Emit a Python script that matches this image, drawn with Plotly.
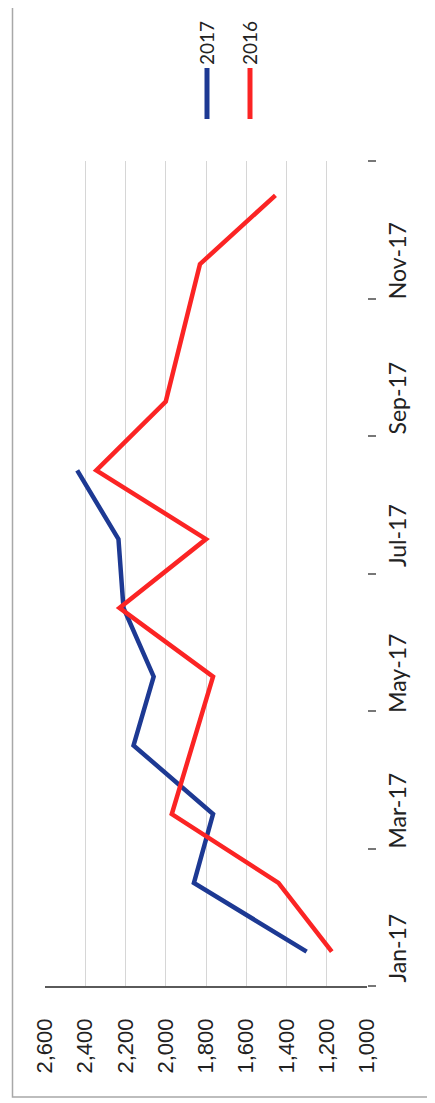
import plotly.graph_objects as go

months = ["Jan-17", "Feb-17", "Mar-17", "Apr-17", "May-17", "Jun-17",
          "Jul-17", "Aug-17", "Sep-17", "Oct-17", "Nov-17", "Dec-17"]
series_2017 = [1300, 1860, 1765, 2160, 2060, 2210, 2235, 2440]
series_2016 = [1175, 1440, 1970, 1867, 1765, 2230, 1800, 2345, 2000, 1915, 1830, 1455]
value_ticks = [1000, 1200, 1400, 1600, 1800, 2000, 2200, 2400, 2600]
label_months = ["Jan-17", "Mar-17", "May-17", "Jul-17", "Sep-17", "Nov-17"]

idx = {m: i for i, m in enumerate(months)}
blue = "#1d3993"
red = "#fb2424"

fig = go.Figure()
fig.add_trace(go.Scatter(x=series_2017, y=[idx[m] for m in months[:len(series_2017)]],
                         mode="lines", line=dict(color=blue, width=4.5), name="2017"))
fig.add_trace(go.Scatter(x=series_2016, y=[idx[m] for m in months[:len(series_2016)]],
                         mode="lines", line=dict(color=red, width=4.5), name="2016"))

# the page body has an 8px default margin, so the figure starts at (8, 8)
OFF = 8
W, H = 435 - OFF, 1103 - OFF
plot_left, plot_right, plot_top, plot_bottom = 45, 367, 161, 986  # page pixels
ml = plot_left - OFF
mt = plot_top - OFF
mr = W - (plot_right - OFF)
mb = H - (plot_bottom - OFF)
pw, ph = W - ml - mr, H - mt - mb

def px_x(p):
    return (p - OFF - ml) / pw

def px_y(p):
    return (H - mb - (p - OFF)) / ph

fig.update_layout(
    width=W, height=H,
    margin=dict(l=ml, r=mr, t=mt, b=mb, autoexpand=False),
    paper_bgcolor="white", plot_bgcolor="white",
    showlegend=False,
    xaxis=dict(
        range=[2600, 1000], tickvals=value_ticks, tickformat=",d",
        tickangle=-90, showgrid=True, gridcolor="#d6d6d6", gridwidth=1,
        showline=True, linecolor="#5a5a5a", linewidth=1.5,
        ticks="", zeroline=False, ticklabelstandoff=22,
        tickfont=dict(family="Liberation Sans", size=22, color="#222222"),
    ),
    yaxis=dict(
        range=[-0.5, 11.5], side="right",
        tickmode="array", tickvals=[idx[m] for m in label_months], ticktext=label_months,
        tickangle=-90, ticks="", showgrid=False, zeroline=False, showline=False,
        ticklabelstandoff=15,
        tickfont=dict(family="Lato", size=23, color="#222222"),
        minor=dict(tickmode="array", tickvals=[i - 0.5 for i in range(0, 13, 2)],
                   ticks="outside", ticklen=8, tickcolor="#777777", tickwidth=1.5,
                   showgrid=False),
    ),
)

# legend (rotated) drawn as annotations + short line segments
legend = [("2017", blue, 207), ("2016", red, 250)]
for name, col, xp in legend:
    fig.add_annotation(xref="paper", yref="paper", x=px_x(xp), y=px_y(43),
                       xanchor="center", yanchor="middle",
                       text=name, showarrow=False, textangle=-90,
                       font=dict(family="Lato", size=19, color="#222222"))
    fig.add_shape(type="line", xref="paper", yref="paper",
                  x0=px_x(xp), x1=px_x(xp), y0=px_y(68), y1=px_y(119),
                  line=dict(color=col, width=5))

# outer chart border
fig.add_shape(type="rect", xref="paper", yref="paper",
              x0=px_x(12.5), x1=px_x(431), y0=px_y(1097), y1=px_y(1.5),
              line=dict(color="#a8a8a8", width=1.5), fillcolor="rgba(0,0,0,0)", layer="below")

fig.write_html("out.html")
